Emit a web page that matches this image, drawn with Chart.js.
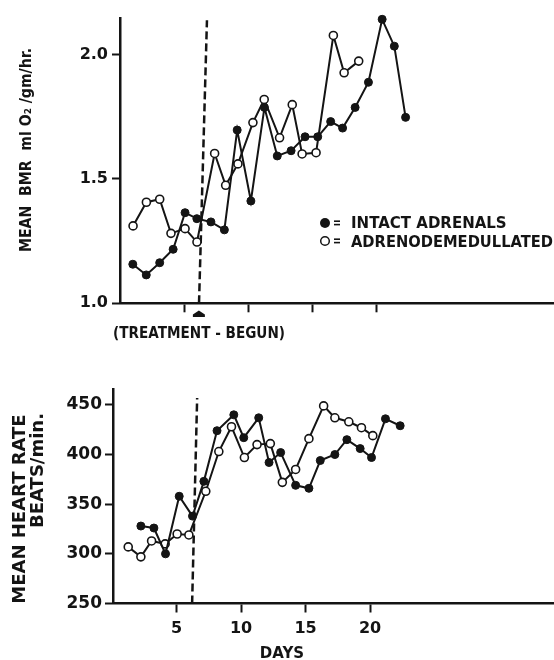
<!DOCTYPE html>
<html>
<head>
<meta charset="utf-8">
<script src="https://cdn.jsdelivr.net/npm/chart.js@4.4.0/dist/chart.umd.min.js"></script>
<style>
  html, body { margin: 0; padding: 0; background: #fff; }
  body { width: 554px; height: 660px; position: relative; overflow: hidden; }
  /* a little wider than the page so the x axes run off the right edge */
  .panel { position: absolute; left: 0; width: 560px; }
  #bmrBox { top: 0; height: 345px; }
  #hrBox { top: 360px; height: 300px; }
</style>
</head>
<body>
<div class="panel" id="bmrBox"><canvas id="bmrChart"></canvas></div>
<div class="panel" id="hrBox"><canvas id="hrChart"></canvas></div>
<script>
const INK = '#141414';
const FONT = '"DejaVu Sans", sans-serif';

// Days (they drift a bit from whole days)
const bmrIntactDays = [1.0, 2.05, 3.1, 4.15, 5.08, 6.0, 7.1, 8.15, 9.15, 10.22, 11.28, 12.28, 13.36, 14.45, 15.44, 16.45, 17.38, 18.36, 19.4, 20.47, 21.42, 22.3];
const bmrIntact = [1.157, 1.114, 1.163, 1.217, 1.364, 1.340, 1.327, 1.295, 1.696, 1.411, 1.787, 1.592, 1.613, 1.669, 1.669, 1.730, 1.704, 1.787, 1.888, 2.141, 2.033, 1.747];

const bmrDemedDays = [1.02, 2.06, 3.1, 3.98, 5.08, 6.01, 7.39, 8.25, 9.21, 10.38, 11.26, 12.46, 13.45, 14.22, 15.31, 16.66, 17.5, 18.64];
const bmrDemed = [1.311, 1.406, 1.418, 1.281, 1.300, 1.246, 1.602, 1.474, 1.560, 1.726, 1.819, 1.665, 1.798, 1.600, 1.605, 2.076, 1.926, 1.973];

const hrIntactDays = [2.24, 3.25, 4.15, 5.21, 6.24, 7.12, 8.14, 9.44, 10.21, 11.37, 12.17, 13.07, 14.23, 15.26, 16.14, 17.27, 18.2, 19.23, 20.11, 21.19, 22.33];
const hrIntact = [328, 326, 300, 358, 338, 373, 424, 440, 417, 437, 392, 402, 369, 366, 394, 400, 415, 406, 397, 436, 429];

const hrDemedDays = [1.26, 2.24, 3.07, 4.12, 5.05, 5.96, 7.27, 8.28, 9.26, 10.26, 11.24, 12.27, 13.2, 14.23, 15.26, 16.4, 17.27, 18.35, 19.33, 20.21];
const hrDemed = [307, 297, 313, 310, 320, 319, 363, 403, 428, 397, 410, 411, 372, 385, 416, 449, 437, 433, 427, 419];

// treatment start (dashed line is slightly skewed in the scan)
const treatDay = 6.16;
const bmrTreatDays = [6.17, 6.79];
const bmrTreatVals = [1.0, 2.137];
const hrTreatDays = [6.21, 6.6];
const hrTreatVals = [250, 457];

const dayTicks = [5, 10, 15, 20];
const bmrTicks = [1.0, 1.5, 2.0];
const hrTicks = [250, 300, 350, 400, 450];

const toPoints = (xs, ys) => xs.map((x, i) => ({ x, y: ys[i] }));

function series(xs, ys, filled) {
    return {
        data: toPoints(xs, ys),
        borderColor: INK,
        borderWidth: 2,
        tension: 0,
        clip: false,
        pointRadius: 4,
        pointHoverRadius: 4,
        pointBackgroundColor: filled ? INK : '#fff',
        pointBorderColor: INK,
        pointBorderWidth: filled ? 1 : 1.6
    };
}

function dashed(xs, ys) {
    return {
        data: toPoints(xs, ys),
        borderColor: INK,
        borderWidth: 2.5,
        borderDash: [8, 4],
        pointRadius: 0,
        clip: false
    };
}

function xAxis(min, max, height, showLabels) {
    return {
        type: 'linear',
        min, max,
        afterBuildTicks: s => { s.ticks = dayTicks.map(value => ({ value })); },
        afterFit: s => { s.height = height; },
        border: { display: true, color: INK, width: 2.5 },
        grid: { drawOnChartArea: false, drawTicks: true, tickLength: 9, tickWidth: 2, tickColor: INK, color: INK },
        ticks: { display: showLabels, color: INK, padding: 7, font: { family: FONT, size: 16, weight: 'bold' } }
    };
}

function yAxis(min, max, values, width, fmt, size, pad) {
    return {
        min, max,
        afterBuildTicks: s => { s.ticks = values.map(value => ({ value })); },
        afterFit: s => { s.width = width; },
        border: { display: true, color: INK, width: 2.5 },
        grid: { drawOnChartArea: false, drawTicks: true, tickLength: 8, tickWidth: 2, tickColor: INK, color: INK },
        ticks: { color: INK, padding: pad, callback: fmt, font: { family: FONT, size, weight: 'bold' } }
    };
}

// rotated label, reads bottom-to-top
function vText(ctx, text, x, y, size, align, maxWidth) {
    ctx.save();
    ctx.translate(x, y);
    ctx.rotate(-Math.PI / 2);
    ctx.font = `bold ${size}px ${FONT}`;
    ctx.textAlign = align;
    ctx.textBaseline = 'alphabetic';
    ctx.fillText(text, 0, 0, maxWidth);
    ctx.restore();
}

function hText(ctx, text, x, y, size, align, maxWidth) {
    ctx.font = `bold ${size}px ${FONT}`;
    ctx.textAlign = align;
    ctx.textBaseline = 'alphabetic';
    ctx.fillText(text, x, y, maxWidth);
}

const bmrExtras = {
    id: 'bmrExtras',
    afterDraw(chart) {
        const { ctx } = chart;
        const x = chart.scales.x;
        ctx.save();
        ctx.fillStyle = INK;
        ctx.strokeStyle = INK;

        vText(ctx, 'MEAN  BMR  ml O\u2082 /gm/hr.', 30.5, 150, 15, 'center', 204);

        // legend
        ctx.beginPath();
        ctx.arc(325, 223, 5, 0, Math.PI * 2);
        ctx.fill();
        ctx.beginPath();
        ctx.lineWidth = 1.5;
        ctx.arc(325, 241, 4.3, 0, Math.PI * 2);
        ctx.stroke();
        [223, 241].forEach(cy => {
            ctx.fillRect(334, cy - 2.6, 6, 1.6);
            ctx.fillRect(334, cy + 0.8, 6, 1.6);
        });
        hText(ctx, 'INTACT ADRENALS', 351, 228.3, 15, 'left', 166);
        hText(ctx, 'ADRENODEMEDULLATED', 351, 246.5, 15, 'left', 202);

        // marker under the axis where treatment began
        const ax = x.getPixelForValue(treatDay);
        ctx.beginPath();
        ctx.moveTo(ax - 6, 317);
        ctx.lineTo(ax + 6, 317);
        ctx.lineTo(ax + 6, 314.5);
        ctx.lineTo(ax, 310.5);
        ctx.lineTo(ax - 6, 314.5);
        ctx.closePath();
        ctx.fill();

        hText(ctx, '(TREATMENT - BEGUN)', 199, 337.5, 15, 'center', 172);
        ctx.restore();
    }
};

const hrExtras = {
    id: 'hrExtras',
    afterDraw(chart) {
        const { ctx } = chart;
        ctx.save();
        ctx.fillStyle = INK;
        vText(ctx, 'MEAN HEART RATE', 25, 149, 18, 'center', 192);
        vText(ctx, 'BEATS/min.', 43, 53, 18, 'right', 117);
        hText(ctx, 'DAYS', 282, 298, 15, 'center', 46);
        ctx.restore();
    }
};

const common = {
    responsive: true,
    maintainAspectRatio: false,
    animation: false,
    events: [],
    plugins: { legend: { display: false }, tooltip: { enabled: false } }
};

new Chart(document.getElementById('bmrChart'), {
    type: 'line',
    data: {
        datasets: [
            series(bmrIntactDays, bmrIntact, true),
            series(bmrDemedDays, bmrDemed, false),
            dashed(bmrTreatDays, bmrTreatVals)
        ]
    },
    options: {
        ...common,
        layout: { padding: { top: 18.3, left: 0, right: 0, bottom: 0 } },
        scales: {
            x: xAxis(0, 33.92, 41.7, false),
            y: yAxis(1.0, 2.145, bmrTicks, 120, v => v.toFixed(1), 16, 4)
        }
    },
    plugins: [bmrExtras]
});

new Chart(document.getElementById('hrChart'), {
    type: 'line',
    data: {
        datasets: [
            series(hrIntactDays, hrIntact, true),
            series(hrDemedDays, hrDemed, false),
            dashed(hrTreatDays, hrTreatVals)
        ]
    },
    options: {
        ...common,
        layout: { padding: { top: 29, left: 0, right: 0, bottom: 0 } },
        scales: {
            x: xAxis(0.08, 34.28, 56.5, true),
            y: yAxis(250, 466, hrTicks, 113, v => String(v), 17, 3)
        }
    },
    plugins: [hrExtras]
});
</script>
</body>
</html>
